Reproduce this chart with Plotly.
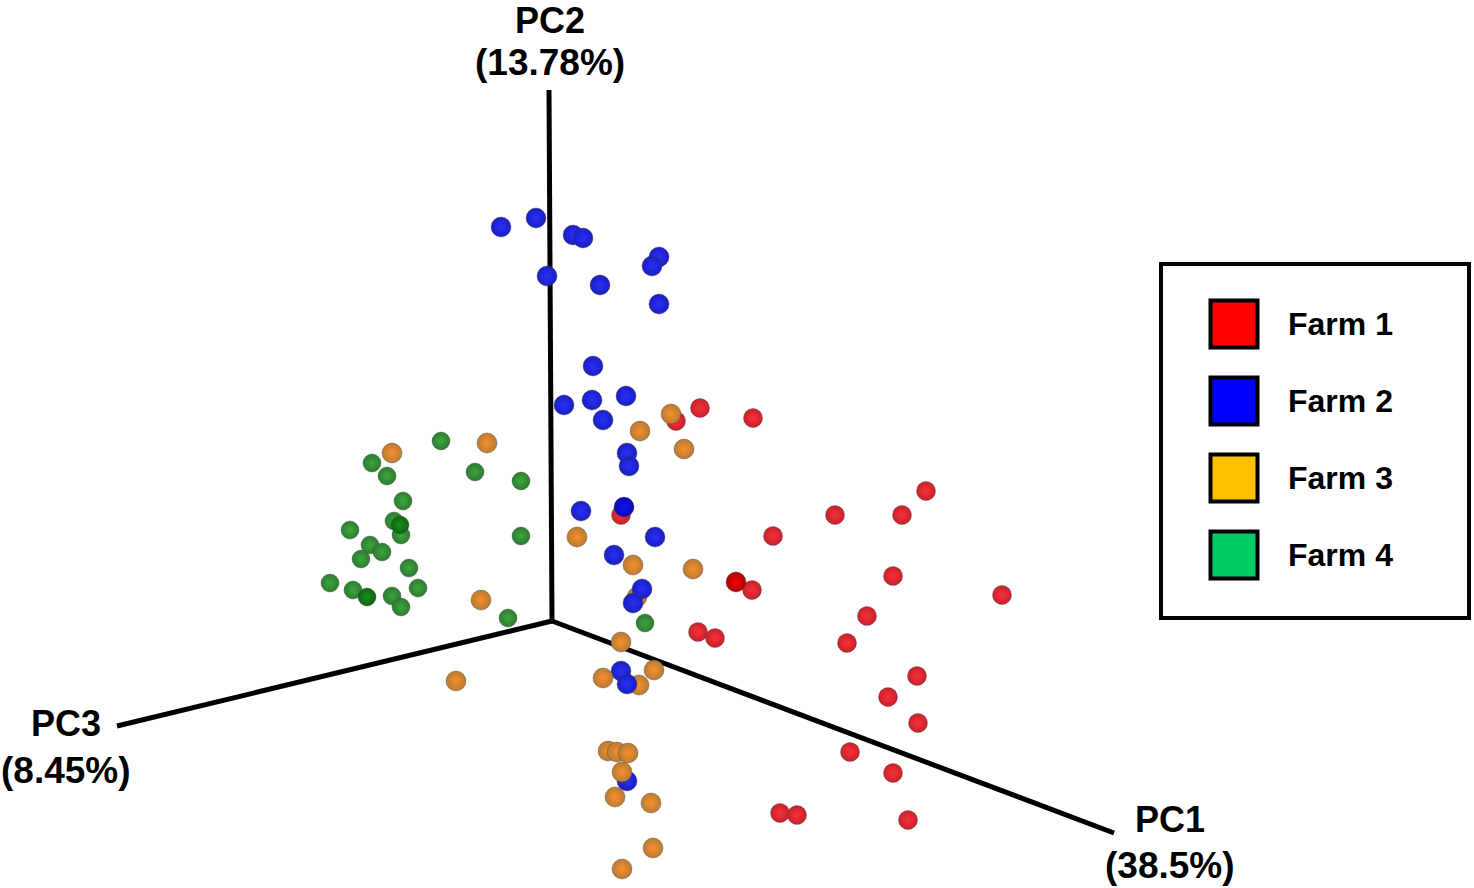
import plotly.graph_objects as go

# axes, in picture coordinates
origin = [552, 621]
pc1_end = [1114, 833]
pc2_end = [549, 90]
pc3_end = [117, 726]

farm1_x = [700, 753, 676, 926, 835, 902, 621, 773, 893, 752, 1002, 867, 847, 698, 715, 917, 888, 918, 850, 893, 780, 797, 908]
farm1_y = [408, 418, 421, 491, 515, 515, 515, 536, 576, 590, 595, 616, 643, 632, 638, 676, 697, 723, 752, 773, 813, 815, 820]
farm1_dark_x = [736]
farm1_dark_y = [582]

farm2_x = [501, 536, 573, 583, 659, 652, 547, 600, 659, 593, 592, 626, 564, 603, 627, 629, 581, 655, 614, 642, 633, 621, 627, 627]
farm2_y = [227, 218, 235, 238, 257, 266, 276, 285, 304, 366, 400, 396, 405, 420, 453, 466, 511, 537, 555, 589, 603, 671, 684, 781]
farm2_dark_x = [624]
farm2_dark_y = [507]

# orange points sitting behind the blue ones
farm3_back_x = [637, 639]
farm3_back_y = [597, 685]
farm3_x = [671, 640, 684, 392, 487, 577, 633, 693, 481, 621, 654, 603, 456, 608, 617, 628, 622, 615, 651, 653, 622]
farm3_y = [414, 431, 449, 453, 443, 537, 565, 569, 600, 642, 670, 678, 681, 751, 752, 753, 772, 797, 803, 848, 869]

farm4_x = [441, 372, 387, 475, 521, 403, 394, 401, 350, 521, 370, 382, 361, 409, 330, 353, 418, 392, 401, 508, 645]
farm4_y = [441, 463, 476, 472, 481, 501, 521, 535, 530, 536, 545, 552, 559, 568, 583, 590, 588, 596, 607, 618, 623]
farm4_dark_x = [400, 367]
farm4_dark_y = [525, 597]

legend_labels = ["Farm 1", "Farm 2", "Farm 3", "Farm 4"]
legend_colors = ["#ff0000", "#0000ff", "#ffc000", "#00cc66"]
legend_y = [324, 401, 478, 555]

font_name = "Liberation Sans"


def add_points(fig, x, y, center, edge, size=19):
    # radial gradient runs from gradient.color in the middle to marker.color at the rim
    fig.add_trace(go.Scatter(x=x, y=y, mode="markers",
                             marker=dict(size=size, color=edge,
                                         gradient=dict(type="radial", color=center),
                                         line=dict(color="rgba(70,70,70,0.4)", width=1))))


def add_axis(fig, end):
    fig.add_trace(go.Scatter(x=[origin[0], end[0]], y=[origin[1], end[1]], mode="lines",
                             line=dict(color="black", width=5)))


fig = go.Figure()

add_axis(fig, pc1_end)
add_axis(fig, pc2_end)
add_axis(fig, pc3_end)

add_points(fig, farm1_x, farm1_y, "#f8323a", "#c8202a", 19)
add_points(fig, farm1_dark_x, farm1_dark_y, "#f80000", "#b00000", 20)
add_points(fig, farm3_back_x, farm3_back_y, "#f89030", "#b87a30", 20)
add_points(fig, farm4_x, farm4_y, "#3fa53f", "#2a7d30", 18)
add_points(fig, farm4_dark_x, farm4_dark_y, "#1a8f1a", "#0c6410", 18)
add_points(fig, farm2_x, farm2_y, "#2a30f8", "#1a1ec0", 20)
add_points(fig, farm2_dark_x, farm2_dark_y, "#1010f8", "#0808b0", 20)
add_points(fig, farm3_x, farm3_y, "#f89030", "#b87a30", 20)

# legend, drawn by hand so the swatches can be this big
fig.add_shape(type="rect", x0=1161, y0=264, x1=1469, y1=618,
              line=dict(color="black", width=4), fillcolor="white", layer="below")
fig.add_trace(go.Scatter(x=[1234] * 4, y=legend_y, mode="markers",
                         marker=dict(symbol="square", size=47, color=legend_colors,
                                     line=dict(color="black", width=4))))
fig.add_trace(go.Scatter(x=[1288] * 4, y=[v + 3 for v in legend_y], mode="text", text=legend_labels,
                         textposition="middle right",
                         textfont=dict(family=font_name, size=32, color="black", weight="bold")))

axis_labels = [
    (550, 20, "PC2", 36), (550, 62, "(13.78%)", 37),
    (66, 723, "PC3", 36), (66, 770, "(8.45%)", 37),
    (1170, 819, "PC1", 36), (1170, 865, "(38.5%)", 37),
]
for x, y, label, size in axis_labels:
    fig.add_annotation(x=x, y=y, text="<b>" + label + "</b>", showarrow=False,
                       font=dict(family=font_name, size=size, color="black"))

fig.update_layout(
    width=1474,
    height=888,
    margin=dict(l=0, r=0, t=0, b=0),
    showlegend=False,
    paper_bgcolor="white",
    plot_bgcolor="white",
)
fig.update_xaxes(range=[0, 1474], visible=False)
fig.update_yaxes(range=[888, 0], visible=False)
fig.write_html("out.html", config=dict(displayModeBar=False),
               post_script="document.body.style.margin='0';")
